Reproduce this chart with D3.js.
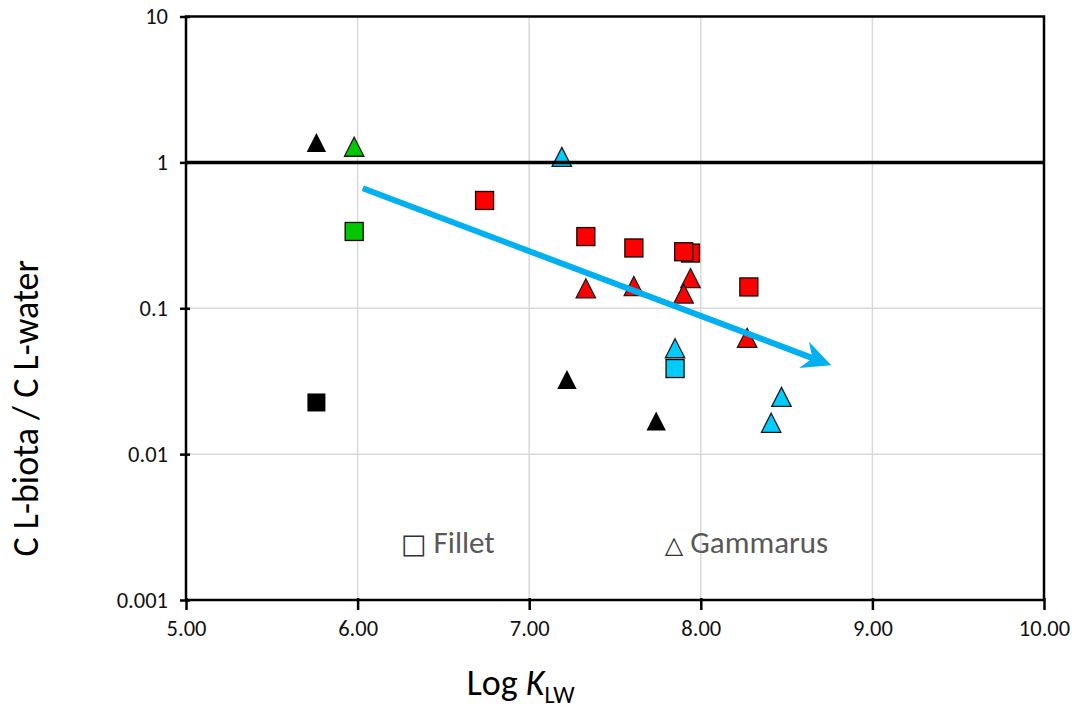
<!DOCTYPE html>
<html lang="en">
<head>
<meta charset="utf-8">
<title>C L-biota / C L-water vs Log KLW</title>
<script src="https://d3js.org/d3.v7.min.js"></script>
<style>
  body { margin: 0; background: #fff; }
  svg text { font-family: Carlito, Lato, "Open Sans", sans-serif; }
</style>
</head>
<body>
<div id="chart"></div>
<script>
// ---- data ----
// fillet (squares)
var filletLogK  = [5.76, 5.98, 6.74, 7.33, 7.61, 7.94, 7.90, 8.28, 7.85];
var filletRatio = [0.0226, 0.336, 0.548, 0.310, 0.259, 0.239, 0.244, 0.140, 0.0386];
var filletGroup = ["black", "green", "red", "red", "red", "red", "red", "red", "cyan"];

// gammarus (triangles)
var gammarusLogK  = [5.76, 5.98, 7.19, 7.33, 7.61, 7.94, 7.90, 8.27, 7.85, 8.47, 8.41, 7.22, 7.74];
var gammarusRatio = [1.37, 1.28, 1.09, 0.137, 0.142, 0.161, 0.126, 0.0627, 0.0532, 0.0247, 0.0164, 0.0325, 0.0169];
var gammarusGroup = ["black", "green", "cyan", "red", "red", "red", "red", "red", "cyan", "cyan", "cyan", "black", "black"];

var xTicks = [5, 6, 7, 8, 9, 10];
var yTicks = [0.001, 0.01, 0.1, 1, 10];

// trend arrow (start, end) in data units
var arrowLogK  = [6.03, 8.76];
var arrowRatio = [0.664, 0.0407];

var groupColor = { black: "#000000", green: "#00c800", red: "#ff0000", cyan: "#00ccff" };

// ---- layout ----
var margin = {top: 16.5, right: 35, bottom: 110, left: 186},
    width = 1079 - margin.left - margin.right,
    height = 710 - margin.top - margin.bottom;

var svg = d3.select("#chart")
  .append("svg")
    .attr("width", 1079)
    .attr("height", 710)
  .append("g")
    .attr("transform", "translate(" + margin.left + "," + margin.top + ")");

var x = d3.scaleLinear().domain([5, 10]).range([0, width]);
var y = d3.scaleLog().domain([0.001, 10]).range([height, 0]);

// gridlines
svg.append("g").selectAll("line")
  .data(xTicks.slice(1, -1))
  .join("line")
    .attr("x1", d => x(d)).attr("x2", d => x(d))
    .attr("y1", 0).attr("y2", height)
    .attr("stroke", "#d9d9d9").attr("stroke-width", 1.5);

svg.append("g").selectAll("line")
  .data(yTicks.slice(1, -1))
  .join("line")
    .attr("x1", 0).attr("x2", width)
    .attr("y1", d => y(d)).attr("y2", d => y(d))
    .attr("stroke", "#d9d9d9").attr("stroke-width", 1.5);

// in-plot legend text
var lg1 = svg.append("text")
  .attr("x", x(6.253)).attr("y", y(0.0025) + 11)
  .style("font-size", "31px").attr("fill", "#595959");
lg1.append("tspan").text("\u25A1").style("font-family", "DejaVu Sans").style("font-size", "27px").attr("fill", "#333");
lg1.append("tspan").text(" Fillet");
var lg2 = svg.append("text")
  .attr("x", x(7.79)).attr("y", y(0.0025) + 11)
  .style("font-size", "31px").attr("fill", "#595959");
lg2.append("tspan").text("\u25B3").style("font-family", "DejaVu Sans").style("font-size", "24px").attr("fill", "#333");
lg2.append("tspan").text(" Gammarus");

// markers
var sq = 18, tri = 19;
svg.append("g").selectAll("rect")
  .data(filletLogK.map((k, i) => ({k: k, r: filletRatio[i], g: filletGroup[i]})))
  .join("rect")
    .attr("x", d => x(d.k) - sq / 2)
    .attr("y", d => y(d.r) - sq / 2)
    .attr("width", sq).attr("height", sq)
    .attr("fill", d => groupColor[d.g])
    .attr("stroke", d => d.g == "black" ? "none" : "#1a0000")
    .attr("stroke-width", 1.3);

svg.append("g").selectAll("path")
  .data(gammarusLogK.map((k, i) => ({k: k, r: gammarusRatio[i], g: gammarusGroup[i]})))
  .join("path")
    .attr("d", function(d) {
      var cx = x(d.k), cy = y(d.r), h = tri / 2;
      return "M" + cx + "," + (cy - h) + "L" + (cx + h * 1.02) + "," + (cy + h) +
             "L" + (cx - h * 1.02) + "," + (cy + h) + "Z";
    })
    .attr("fill", d => groupColor[d.g])
    .attr("stroke", d => d.g == "black" ? "none" : "#1a1a1a")
    .attr("stroke-width", 1.3)
    .attr("stroke-linejoin", "miter");

// reference line at ratio = 1
svg.append("line")
  .attr("x1", 0).attr("x2", width)
  .attr("y1", y(1)).attr("y2", y(1))
  .attr("stroke", "#000").attr("stroke-width", 3.5);

// trend arrow
var ax0 = x(arrowLogK[0]), ay0 = y(arrowRatio[0]),
    ax1 = x(arrowLogK[1]), ay1 = y(arrowRatio[1]);
var len = Math.hypot(ax1 - ax0, ay1 - ay0),
    ux = (ax1 - ax0) / len, uy = (ay1 - ay0) / len,
    nx = -uy, ny = ux;
var headL = 29, headW = 14, notch = 20;
svg.append("line")
  .attr("x1", ax0).attr("y1", ay0)
  .attr("x2", ax1 - ux * notch).attr("y2", ay1 - uy * notch)
  .attr("stroke", "#00b0f0").attr("stroke-width", 6);
svg.append("path")
  .attr("d", "M" + ax1 + "," + ay1 +
    "L" + (ax1 - ux * headL + nx * headW) + "," + (ay1 - uy * headL + ny * headW) +
    "L" + (ax1 - ux * notch) + "," + (ay1 - uy * notch) +
    "L" + (ax1 - ux * headL - nx * headW) + "," + (ay1 - uy * headL - ny * headW) + "Z")
  .attr("fill", "#00b0f0");

// frame + axes
svg.append("rect")
  .attr("x", 0).attr("y", 0).attr("width", width).attr("height", height)
  .attr("fill", "none").attr("stroke", "#000").attr("stroke-width", 2.5);

var yAxis = svg.append("g")
  .call(d3.axisLeft(y).tickValues(yTicks).tickFormat(d => String(d)).tickSize(6).tickPadding(12));
var xAxis = svg.append("g")
  .attr("transform", "translate(0," + height + ")")
  .call(d3.axisBottom(x).tickValues(xTicks).tickFormat(d3.format(".2f")).tickSize(10).tickPadding(10));

[yAxis, xAxis].forEach(function(a) {
  a.select(".domain").remove();
  a.selectAll(".tick line").attr("stroke", "#000").attr("stroke-width", 2.5);
  a.selectAll(".tick text").attr("fill", "#111").style("font-size", "22.5px");
});
// cross ticks
yAxis.selectAll(".tick line").attr("x1", 4);
xAxis.selectAll(".tick line").attr("y1", -2);

// axis titles
var xt = svg.append("text")
  .attr("x", x(6.95)).attr("y", height + 95)
  .attr("text-anchor", "middle")
  .style("font-size", "36px").attr("fill", "#000");
xt.append("tspan").text("Log ");
xt.append("tspan").text("K").style("font-style", "italic");
xt.append("tspan").text("LW").attr("dy", 8).style("font-size", "24px");

svg.append("text")
  .attr("transform", "translate(" + (-148.5) + "," + (y(0.1) + 100) + ") rotate(-90)")
  .attr("text-anchor", "middle")
  .style("font-size", "36px").attr("fill", "#000")
  .text("C L-biota / C L-water");
</script>
</body>
</html>
